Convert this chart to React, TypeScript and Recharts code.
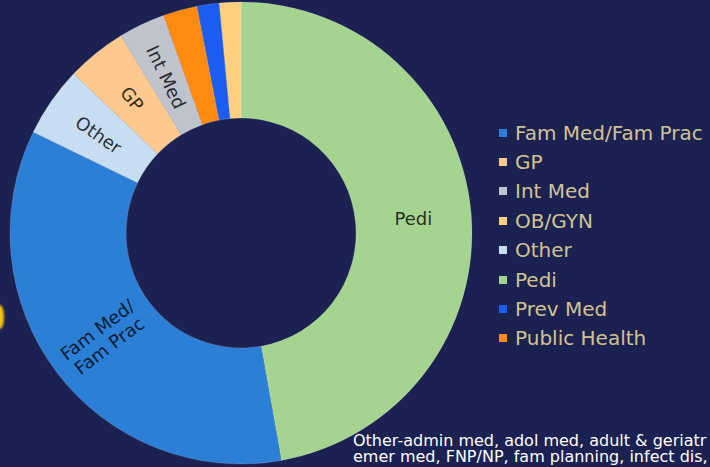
import React from 'react';
import { PieChart, Pie, Cell, Legend } from 'recharts';

const categories = ['Pedi', 'Fam Med/Fam Prac', 'Other', 'GP', 'Int Med', 'Public Health', 'Prev Med', 'OB/GYN'];
const values = [47.2, 35.0, 4.9, 4.2, 3.25, 2.4, 1.55, 1.5];
const colors = ['#a4d48f', '#2c7fd6', '#c7ddf2', '#fdc98f', '#bfc3cb', '#ff8a12', '#1c5cf0', '#fdd07f'];
const sliceLabels = [['Pedi'], ['Fam Med/', 'Fam Prac'], ['Other'], ['GP'], ['Int Med'], [], [], []];
const horizontalLabels = ['Pedi'];
const legendOrder = ['Fam Med/Fam Prac', 'GP', 'Int Med', 'OB/GYN', 'Other', 'Pedi', 'Prev Med', 'Public Health'];
const footnoteLines = [
  'Other-admin med, adol med, adult & geriatr',
  'emer med, FNP/NP, fam planning, infect dis,',
];

const data = categories.map((name, i) => ({ name, value: values[i], color: colors[i], label: sliceLabels[i] }));

const BG = '#1b2150';
const FONT = '"DejaVu Sans", Verdana, sans-serif';
const RAD = Math.PI / 180;

const renderLabel = (props: any) => {
  const { cx, cy, midAngle, innerRadius, outerRadius, index } = props;
  const lines: string[] = data[index].label;
  if (!lines.length) return null;
  const r = (innerRadius + outerRadius) / 2;
  const x = cx + r * Math.cos(-midAngle * RAD);
  const y = cy + r * Math.sin(-midAngle * RAD);
  let rot = 180 - midAngle;
  rot = ((rot % 360) + 540) % 360 - 180;
  if (rot > 90) rot -= 180;
  if (rot < -90) rot += 180;
  if (horizontalLabels.includes(data[index].name)) rot = 0;
  const lh = 20;
  const startDy = -((lines.length - 1) * lh) / 2;
  return (
    <text
      x={x}
      y={y}
      transform={`rotate(${rot}, ${x}, ${y})`}
      textAnchor="middle"
      dominantBaseline="central"
      fill="#000"
      fillOpacity={0.8}
      fontFamily={FONT}
      fontSize={18}
    >
      {lines.map((ln, i) => (
        <tspan key={i} x={x} dy={i === 0 ? startDy : lh}>
          {ln}
        </tspan>
      ))}
    </text>
  );
};

const renderLegend = (props: any) => {
  const payload = [...(props.payload || [])];
  payload.sort((a: any, b: any) => legendOrder.indexOf(a.value) - legendOrder.indexOf(b.value));
  return (
    <div style={{ fontFamily: FONT }}>
      {payload.map((p: any) => (
        <div key={p.value} style={{ display: 'flex', alignItems: 'center', height: 29.4 }}>
          <div style={{ width: 8, height: 8, background: p.color, marginRight: 8, flex: 'none' }} />
          <span style={{ color: '#d2c394', fontSize: 20, whiteSpace: 'nowrap', lineHeight: '20px' }}>{p.value}</span>
        </div>
      ))}
    </div>
  );
};

export default function App() {
  return (
    <div
      style={{
        position: 'fixed',
        left: 0,
        top: 0,
        width: 710,
        height: 467,
        background: BG,
        overflow: 'hidden',
      }}
    >
      <PieChart width={710} height={467} margin={{ top: 0, right: 0, bottom: 0, left: 0 }}>
        <Pie
          data={data}
          dataKey="value"
          nameKey="name"
          cx={241}
          cy={233}
          innerRadius={115}
          outerRadius={231}
          startAngle={90}
          endAngle={-270}
          stroke="rgba(255,255,255,0.2)"
          strokeWidth={0.8}
          label={renderLabel}
          labelLine={false}
          isAnimationActive={false}
        >
          {data.map((d) => (
            <Cell key={d.name} fill={d.color} />
          ))}
        </Pie>
        <Legend
          layout="vertical"
          align="right"
          verticalAlign="top"
          content={renderLegend}
          wrapperStyle={{ left: 499, top: 118, right: 'auto', width: 211 }}
        />
      </PieChart>
      <div
        style={{
          position: 'absolute',
          left: -4,
          top: 305,
          width: 8,
          height: 24,
          borderRadius: '50%',
          background: '#f2c21a',
          filter: 'blur(1px)',
        }}
      />
      <div
        style={{
          position: 'absolute',
          left: 353,
          top: 433,
          fontFamily: FONT,
          fontSize: 16,
          lineHeight: '16px',
          color: '#ffffff',
          whiteSpace: 'nowrap',
        }}
      >
        {footnoteLines.map((l, i) => (
          <div key={i}>{l}</div>
        ))}
      </div>
    </div>
  );
}
